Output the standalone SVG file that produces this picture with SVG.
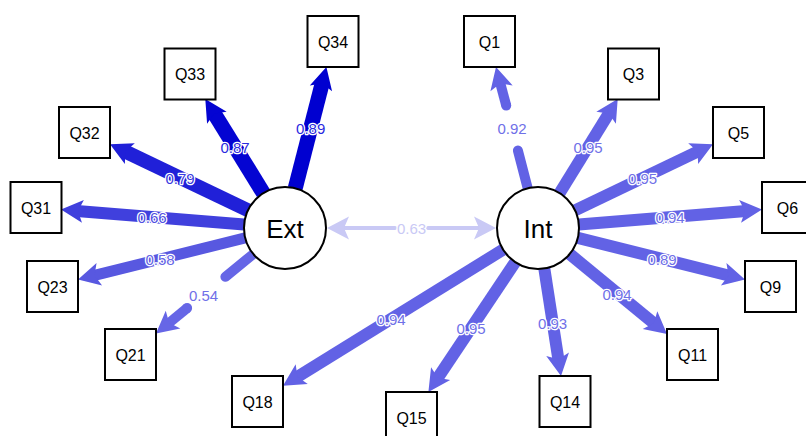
<svg xmlns="http://www.w3.org/2000/svg" xmlns:xlink="http://www.w3.org/1999/xlink" width="806" height="436" viewBox="0 0 806 436">
<style>
.box{fill:#fff;stroke:#000;stroke-width:2}
.lat{fill:#fff;stroke:#000;stroke-width:2}
.nt{font-family:"Liberation Sans",Arial,sans-serif;font-size:16px;fill:#000;text-anchor:middle}
.lt{font-family:"Liberation Sans",Arial,sans-serif;font-size:26px;fill:#000;text-anchor:middle}
.e{fill:none;stroke-linecap:butt}
.r{fill:none;stroke-linecap:round}
.lbl{font-family:"Liberation Sans",Arial,sans-serif;font-size:15px;text-anchor:middle;stroke:#fff;stroke-width:2.5;paint-order:stroke;stroke-linejoin:round}
</style>
<defs>
<path id="ah" d="M0,0 L-22,-11.5 L-17,0 L-22,11.5 Z"/>
</defs>
<rect width="806" height="436" fill="#fff"/>
<g id="connectors">
<!-- Ext edges -->
<path class="e" stroke="#0000d0" stroke-width="15" d="M295.2,188.3 L322.4,82.5"/>
<use xlink:href="#ah" fill="#0000d0" transform="translate(326.4,67) rotate(-75.57)"/>
<path class="e" stroke="#0404d2" stroke-width="15" d="M263.4,193.1 L213.7,112.6"/>
<use xlink:href="#ah" fill="#0404d2" transform="translate(205.3,99) rotate(-121.72)"/>
<path class="e" stroke="#2020d8" stroke-width="14" d="M248,210.3 L124.4,151.1"/>
<use xlink:href="#ah" fill="#2020d8" transform="translate(110,144.2) rotate(-154.41)"/>
<path class="e" stroke="#4040dd" stroke-width="12" d="M244.1,224.6 L77,210.9"/>
<use xlink:href="#ah" fill="#4040dd" transform="translate(61,209.6) rotate(-175.29)"/>
<path class="e" stroke="#5858e0" stroke-width="11" d="M245.2,237.9 L93.5,275.7"/>
<use xlink:href="#ah" fill="#5858e0" transform="translate(78,279.6) rotate(166.0)"/>
<path class="r" stroke="#6666e6" stroke-width="10" d="M253.3,254 L225.4,276.8"/>
<path class="e" stroke="#6666e6" stroke-width="10" d="M187.1,308.1 L168.4,323.5"/>
<circle cx="187.1" cy="308.1" r="5" fill="#6666e6"/>
<use xlink:href="#ah" fill="#6666e6" transform="translate(156,333.6) rotate(140.69)"/>
<!-- Int edges -->
<path class="r" stroke="#6262e5" stroke-width="10" d="M527.7,188.3 L517.9,150.6"/>
<path class="e" stroke="#6262e5" stroke-width="10" d="M506.2,105.6 L500.1,82.4"/>
<circle cx="506.2" cy="105.6" r="5" fill="#6262e5"/>
<use xlink:href="#ah" fill="#6262e5" transform="translate(496,67) rotate(-104.58)"/>
<path class="e" stroke="#6262e5" stroke-width="12" d="M559.6,193.1 L609.3,112.6"/>
<use xlink:href="#ah" fill="#6262e5" transform="translate(617.7,99) rotate(-58.28)"/>
<path class="e" stroke="#6262e5" stroke-width="12" d="M575,210.3 L698.6,151.1"/>
<use xlink:href="#ah" fill="#6262e5" transform="translate(713,144.2) rotate(-25.59)"/>
<path class="e" stroke="#6262e5" stroke-width="12" d="M578.9,224.6 L746,210.9"/>
<use xlink:href="#ah" fill="#6262e5" transform="translate(762,209.6) rotate(-4.70)"/>
<path class="e" stroke="#6262e5" stroke-width="12" d="M577.8,237.9 L729.5,275.7"/>
<use xlink:href="#ah" fill="#6262e5" transform="translate(745,279.6) rotate(13.99)"/>
<path class="e" stroke="#6262e5" stroke-width="12" d="M569.7,254 L654.6,323.8"/>
<use xlink:href="#ah" fill="#6262e5" transform="translate(667,334) rotate(39.40)"/>
<path class="e" stroke="#6262e5" stroke-width="12" d="M544.3,268.5 L558.5,360.2"/>
<use xlink:href="#ah" fill="#6262e5" transform="translate(561,376) rotate(81.15)"/>
<path class="e" stroke="#6262e5" stroke-width="12" d="M515.2,262.1 L437.3,378.7"/>
<use xlink:href="#ah" fill="#6262e5" transform="translate(428.4,392) rotate(123.76)"/>
<path class="e" stroke="#6262e5" stroke-width="12" d="M503.1,249.6 L296.6,377.3"/>
<use xlink:href="#ah" fill="#6262e5" transform="translate(283,385.7) rotate(148.26)"/>
<!-- covariance -->
<path class="r" stroke="#c9c9f5" stroke-width="4" d="M342,228 L395,228"/>
<path class="r" stroke="#c9c9f5" stroke-width="4" d="M428,228 L481,228"/>
<use xlink:href="#ah" fill="#c9c9f5" transform="translate(327,228) rotate(180)"/>
<use xlink:href="#ah" fill="#c9c9f5" transform="translate(496,228)"/>
<!-- labels -->
<text class="lbl" fill="#2a2ae0" x="310.7" y="133.5">0.89</text>
<text class="lbl" fill="#2a2ae0" x="235" y="152.5">0.87</text>
<text class="lbl" fill="#3a3ae0" x="180" y="183.5">0.79</text>
<text class="lbl" fill="#5050e2" x="152" y="222.5">0.66</text>
<text class="lbl" fill="#6464e6" x="160" y="264.5">0.58</text>
<text class="lbl" fill="#7070e8" x="203.5" y="300.5">0.54</text>
<text class="lbl" fill="#7070e8" x="512" y="133.5">0.92</text>
<text class="lbl" fill="#7070e8" x="588" y="152.5">0.95</text>
<text class="lbl" fill="#7070e8" x="642.5" y="183.5">0.95</text>
<text class="lbl" fill="#7070e8" x="670" y="222.5">0.94</text>
<text class="lbl" fill="#7070e8" x="662" y="264.5">0.89</text>
<text class="lbl" fill="#7070e8" x="617" y="299.5">0.94</text>
<text class="lbl" fill="#7070e8" x="552.5" y="328.5">0.93</text>
<text class="lbl" fill="#7070e8" x="471" y="333.5">0.95</text>
<text class="lbl" fill="#7070e8" x="391" y="324.5">0.94</text>
<text class="lbl" fill="#c9c9f5" x="411.5" y="233.5">0.63</text>
</g>
<g id="Ext"><circle class="lat" cx="285" cy="228" r="41"/><text class="lt" x="285" y="237.5">Ext</text></g>
<g id="Int"><circle class="lat" cx="538" cy="228" r="41"/><text class="lt" x="538" y="237.5">Int</text></g>
<g id="Q34"><rect class="box" x="307.5" y="16" width="51" height="51"/><text class="nt" x="333" y="47.5">Q34</text></g>
<g id="Q33"><rect class="box" x="164.5" y="48.5" width="51" height="51"/><text class="nt" x="190" y="80">Q33</text></g>
<g id="Q32"><rect class="box" x="59" y="107" width="51" height="51"/><text class="nt" x="84.5" y="138.5">Q32</text></g>
<g id="Q31"><rect class="box" x="10.5" y="182" width="51" height="51"/><text class="nt" x="36" y="213.5">Q31</text></g>
<g id="Q23"><rect class="box" x="27" y="261" width="51" height="51"/><text class="nt" x="52.5" y="292.5">Q23</text></g>
<g id="Q21"><rect class="box" x="105" y="329" width="51" height="51"/><text class="nt" x="130.5" y="360.5">Q21</text></g>
<g id="Q18"><rect class="box" x="232" y="376" width="51" height="51"/><text class="nt" x="257.5" y="407.5">Q18</text></g>
<g id="Q15"><rect class="box" x="386" y="392" width="51" height="51"/><text class="nt" x="411.5" y="423.5">Q15</text></g>
<g id="Q14"><rect class="box" x="539.5" y="376" width="51" height="51"/><text class="nt" x="565" y="407.5">Q14</text></g>
<g id="Q11"><rect class="box" x="667" y="329" width="51" height="51"/><text class="nt" x="692.5" y="360.5">Q11</text></g>
<g id="Q9"><rect class="box" x="745" y="261" width="51" height="51"/><text class="nt" x="770.5" y="292.5">Q9</text></g>
<g id="Q6"><rect class="box" x="762" y="182" width="51" height="51"/><text class="nt" x="787.5" y="213.5">Q6</text></g>
<g id="Q5"><rect class="box" x="713" y="107" width="51" height="51"/><text class="nt" x="738.5" y="138.5">Q5</text></g>
<g id="Q3"><rect class="box" x="608" y="48.5" width="51" height="51"/><text class="nt" x="633.5" y="80">Q3</text></g>
<g id="Q1"><rect class="box" x="464" y="16" width="51" height="51"/><text class="nt" x="489.5" y="47.5">Q1</text></g>
</svg>
